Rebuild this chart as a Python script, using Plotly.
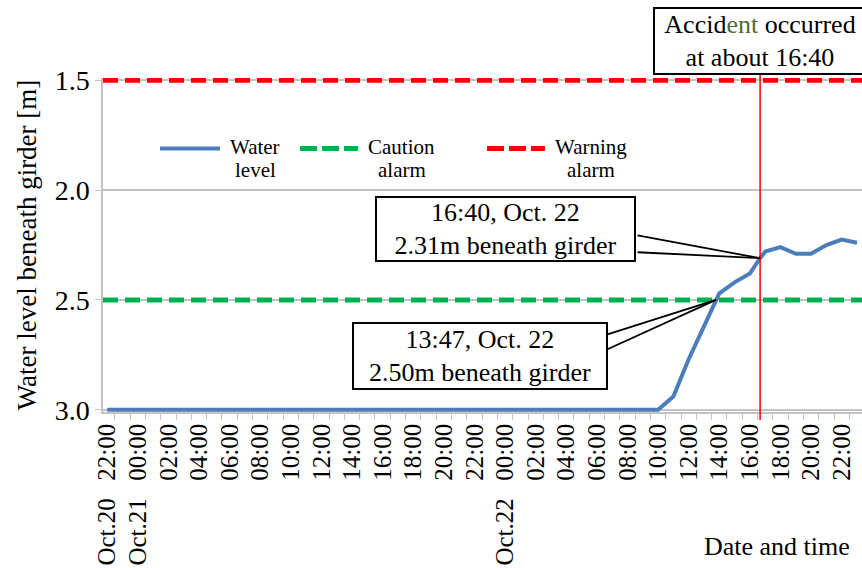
import pandas as pd
import plotly.graph_objects as go

# Water level beneath the girder (m), read at the gauge
level_times = [
    "2017-10-20 22:00", "2017-10-22 10:00", "2017-10-22 11:00", "2017-10-22 12:00",
    "2017-10-22 13:00", "2017-10-22 13:47", "2017-10-22 14:00", "2017-10-22 15:00",
    "2017-10-22 16:00", "2017-10-22 16:40", "2017-10-22 17:00", "2017-10-22 18:00",
    "2017-10-22 19:00", "2017-10-22 20:00", "2017-10-22 21:00", "2017-10-22 22:00",
    "2017-10-22 23:00",
]
level_values = [3.00, 3.00, 2.94, 2.77, 2.62, 2.50, 2.47, 2.42,
                2.38, 2.31, 2.28, 2.26, 2.29, 2.29, 2.25, 2.225, 2.24]

caution_level = 2.5
warning_level = 1.5

accident_time = "2017-10-22 16:40"
accident_level = 2.31
caution_cross_time = "2017-10-22 13:47"
caution_cross_level = 2.50

y_ticks = [1.5, 2.0, 2.5, 3.0]
y_tick_labels = ["1.5", "2.0", "2.5", "3.0"]

GAP = "\u00a0\u00a0\u2009"
x_tick_times = list(pd.date_range("2017-10-20 22:00", "2017-10-22 22:00", freq="2h"))
x_tick_labels = [
    "Oct.20" + GAP + "22:00", "Oct.21" + GAP + "00:00", "02:00", "04:00", "06:00",
    "08:00", "10:00", "12:00", "14:00", "16:00", "18:00", "20:00", "22:00",
    "Oct.22" + GAP + "00:00", "02:00", "04:00", "06:00", "08:00", "10:00",
    "12:00", "14:00", "16:00", "18:00", "20:00", "22:00",
]

FONT = '"Liberation Serif", "Times New Roman", serif'
BLUE = "#4a7ebb"
GREEN = "#00b050"
RED = "#ff0000"
GRID = "#c3c3c3"

fig = go.Figure()
fig.add_trace(go.Scatter(
    x=level_times, y=level_values, mode="lines",
    line=dict(color=BLUE, width=4), showlegend=False, name="Water level",
))

# Alarm levels across the whole time span
for lvl, col in [(caution_level, GREEN), (warning_level, RED)]:
    fig.add_shape(type="line", xref="paper", x0=0, x1=1, yref="y", y0=lvl, y1=lvl,
                  line=dict(color=col, width=5, dash="15px,7px"), layer="above")

# Accident marker
fig.add_shape(type="line", xref="x", x0=accident_time, x1=accident_time,
              yref="paper", y0=-0.024, y1=1.0096,
              line=dict(color=RED, width=1.5), layer="above")

# Hand-drawn legend
legend_items = [
    (BLUE, "solid", 4, 0.0751, 0.1542, 0.2003, "Water", "level"),
    (GREEN, "17px,5px", 5, 0.2596, 0.3360, 0.3939, "Caution", "alarm"),
    (RED, "17px,5px", 5, 0.5059, 0.5823, 0.6430, "Warning", "alarm"),
]
leg_font = dict(family=FONT, size=21, color="black")
for col, dash, w, x0, x1, xt, t1, t2 in legend_items:
    fig.add_shape(type="line", xref="paper", yref="paper", x0=x0, x1=x1, y0=0.789, y1=0.789,
                  line=dict(color=col, width=w, dash=dash))
    fig.add_annotation(xref="paper", yref="paper", x=xt, y=0.793, text=t1, showarrow=False,
                       font=leg_font, xanchor="center", yanchor="middle")
    fig.add_annotation(xref="paper", yref="paper", x=xt, y=0.724, text=t2, showarrow=False,
                       font=leg_font, xanchor="center", yanchor="middle")

box_font = dict(family=FONT, size=26, color="black")

# Callout: accident point
fig.add_annotation(xref="paper", yref="paper", x=0.5303, y=0.547,
                   text="16:40, Oct. 22<br>2.31m beneath girder", showarrow=False,
                   font=box_font, bgcolor="white", bordercolor="black", borderwidth=2,
                   borderpad=0, width=257, height=62, xanchor="center", yanchor="middle")
for ay in (-23, -6):
    fig.add_annotation(x=accident_time, y=accident_level, xref="x", yref="y", text="",
                       showarrow=True, arrowhead=0, arrowwidth=1.8, arrowcolor="black",
                       ax=-124, ay=ay, standoff=0, startstandoff=0)

# Callout: caution level crossing
fig.add_annotation(xref="paper", yref="paper", x=0.4967, y=0.1668,
                   text="13:47, Oct. 22<br>2.50m beneath girder", showarrow=False,
                   font=box_font, bgcolor="white", bordercolor="black", borderwidth=2,
                   borderpad=0, width=252, height=64, xanchor="center", yanchor="middle")
for ay in (35, 50):
    fig.add_annotation(x=caution_cross_time, y=caution_cross_level, xref="x", yref="y", text="",
                       showarrow=True, arrowhead=0, arrowwidth=1.8, arrowcolor="black",
                       ax=-110, ay=ay, standoff=0, startstandoff=0)

# Accident label above the plot
fig.add_annotation(xref="x", yref="paper", x=accident_time, y=1.0096,
                   text='Accid<span style="color:#4f6b2f">ent</span> occurred<br>at about 16:40',
                   showarrow=False, font=dict(family=FONT, size=26, color="black"),
                   bgcolor="white", bordercolor="black", borderwidth=2, borderpad=0,
                   width=210, height=64, xanchor="center", yanchor="bottom")

# X axis title
fig.add_annotation(xref="paper", yref="paper", x=0.9868, y=-0.4036, text="Date and time",
                   showarrow=False, font=dict(family=FONT, size=26, color="black"),
                   xanchor="right", yanchor="middle")

fig.update_layout(
    width=862, height=568,
    margin=dict(l=103, r=0, t=78, b=156, pad=0, autoexpand=False),
    paper_bgcolor="white", plot_bgcolor="white",
    font=dict(family=FONT, size=26, color="black"),
    showlegend=False,
)
fig.update_xaxes(
    type="date", range=["2017-10-20 21:43:30", "2017-10-22 23:19:36"],
    tickmode="array", tickvals=x_tick_times, ticktext=x_tick_labels,
    tickangle=-90, ticks="", showgrid=False, automargin=False,
    showline=True, linecolor=GRID, linewidth=1.5,
    tickfont=dict(family=FONT, size=25, color="black"),
    minor=dict(ticks="outside", ticklen=6, tickcolor=GRID, tickwidth=1.2,
               tick0="2017-10-20 22:30", dtick=3600000, showgrid=False),
)
fig.update_yaxes(
    range=[3.01, 1.49], tickmode="array", tickvals=y_ticks, ticktext=y_tick_labels,
    ticks="outside", ticklen=6, tickcolor=GRID, tickwidth=1.2, automargin=False,
    showgrid=True, gridcolor=GRID, gridwidth=1.5, zeroline=False,
    showline=True, linecolor=GRID, linewidth=1.5,
    tickfont=dict(family=FONT, size=28, color="black"),
    title=dict(text="Water level beneath girder [m]", standoff=10,
               font=dict(family=FONT, size=27, color="black")),
)

fig.write_html("out.html")
